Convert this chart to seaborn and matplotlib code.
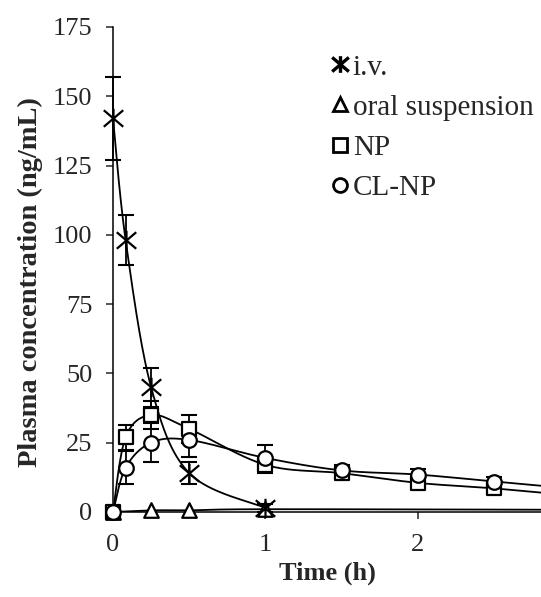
import numpy as np
import pandas as pd
import matplotlib
matplotlib.use("Agg")
import matplotlib.pyplot as plt
import seaborn as sns
from matplotlib.lines import Line2D
from matplotlib.path import Path

# values
time = [0, 0.083, 0.25, 0.5, 1, 1.5, 2, 2.5, 3]
iv_time = [0, 0.083, 0.25, 0.5, 1]
iv = [142, 98, 45, 14, 1.5]
iv_err = [15, 9, 7, 4, 1.5]
oral_time = [0, 0.25, 0.5, 1, 3]
oral = [0, 0.6, 0.6, 1.0, 0.8]
np_conc = [0, 27, 35, 30, 17, 14, 10.5, 8.5, 6]
np_err = [0, 4.5, 5, 5, 3, 2, 2, 1.5, 0]
clnp = [0, 16, 25, 26, 19.5, 15, 13.5, 11, 8.5]
clnp_err = [0, 6, 7, 6, 4.5, 2, 2, 1.5, 0]


def smooth(x, y, n=40):
    # Excel-style smoothed line (Catmull-Rom as cubic Bezier)
    p = np.column_stack([x, y]).astype(float)
    out = []
    for i in range(len(p) - 1):
        p0 = p[max(i - 1, 0)]
        p1 = p[i]
        p2 = p[i + 1]
        p3 = p[min(i + 2, len(p) - 1)]
        b1 = p1 + (p2 - p0) / 6
        b2 = p2 - (p3 - p1) / 6
        t = np.linspace(0, 1, n)[:, None]
        seg = ((1 - t) ** 3) * p1 + 3 * ((1 - t) ** 2) * t * b1 + 3 * (1 - t) * t ** 2 * b2 + t ** 3 * p2
        out.append(seg)
    c = np.vstack(out)
    return c[:, 0], c[:, 1]


# asterisk: vertical stroke plus two diagonals
star = Path([(0, -1), (0, 1), (-1, -0.85), (1, 0.85), (-1, 0.85), (1, -0.85)],
            [Path.MOVETO, Path.LINETO] * 3)

sns.set_style("ticks")
plt.rcParams['font.family'] = ['Liberation Serif', 'DejaVu Serif']

fig = plt.figure(figsize=(5.41, 5.97), dpi=100)
ax = fig.add_axes([0.2089, 0.1424, 0.7911, 0.8124])

series = [
    ("oral suspension", oral_time, oral, None, "^"),
    ("NP", time, np_conc, np_err, "s"),
    ("CL-NP", time, clnp, clnp_err, "o"),
    ("i.v.", iv_time, iv, iv_err, star),
]

for name, t, y, err, mk in series:
    sx, sy = smooth(t, y)
    sns.lineplot(x=sx, y=sy, ax=ax, color="black", lw=1.3, sort=False, estimator=None)
    if err is not None:
        ax.errorbar(t, y, yerr=err, fmt="none", ecolor="black", elinewidth=1.3,
                    capsize=5.5, capthick=1.5, clip_on=False, zorder=3)
    df = pd.DataFrame({"t": t, "y": y})
    if isinstance(mk, Path):
        ax.plot(df["t"], df["y"], ls="none", marker=mk, ms=14, mec="black", mew=1.6,
                clip_on=False, zorder=4)
    else:
        sns.scatterplot(data=df, x="t", y="y", ax=ax, marker=mk, s=110, color="white",
                        edgecolor="black", linewidth=1.6, clip_on=False, zorder=4)

ax.set_xlim(0, 2.807)
ax.set_ylim(0, 175)
ax.set_xticks([0, 1, 2])
ax.set_yticks(np.arange(0, 176, 25))
ax.tick_params(axis="both", direction="out", length=5, width=1.1, labelsize=19)
ax.tick_params(axis="y", pad=10)
ax.tick_params(axis="x", pad=11)
ax.set_xlabel("Time (h)", fontsize=19, fontweight="bold", labelpad=4)
ax.set_ylabel("Plasma concentration (ng/mL)", fontsize=20.5, fontweight="bold")
ax.yaxis.set_label_coords(-0.163, 0.475)
for s in ["left", "bottom"]:
    ax.spines[s].set_linewidth(1.1)
    ax.spines[s].set_color("black")
sns.despine(ax=ax)

handles = [
    Line2D([], [], ls="none", marker=star, ms=12, mec="black", mew=2.4, label="i.v."),
    Line2D([], [], ls="none", marker="^", ms=10, mfc="white", mec="black", mew=2.0, label="oral suspension"),
    Line2D([], [], ls="none", marker="s", ms=10, mfc="white", mec="black", mew=2.0, label="NP"),
    Line2D([], [], ls="none", marker="o", ms=10, mfc="white", mec="black", mew=2.0, label="CL-NP"),
]
ax.legend(handles=handles, loc="upper left", bbox_to_anchor=(0.506, 0.944), frameon=False,
          fontsize=21, handlelength=0.7, handletextpad=0.1, labelspacing=0.47,
          borderpad=0, borderaxespad=0)

fig.savefig("out.png", dpi=100)
